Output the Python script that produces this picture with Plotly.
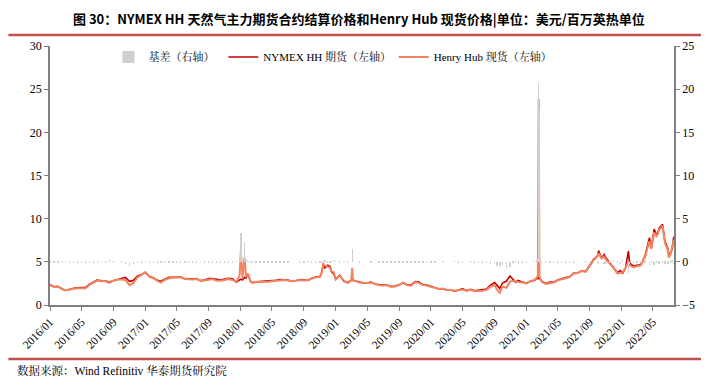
import plotly.graph_objects as go

dates = [
 "2016-01-01","2016-01-16","2016-02-01","2016-02-16","2016-03-01","2016-03-16","2016-04-01","2016-04-16",
 "2016-05-01","2016-05-16","2016-06-01","2016-06-16","2016-07-01","2016-07-16","2016-08-01","2016-08-16",
 "2016-09-01","2016-09-16","2016-10-01","2016-10-16","2016-11-01","2016-11-16","2016-12-01","2016-12-16",
 "2017-01-01","2017-01-16","2017-02-01","2017-02-16","2017-03-01","2017-03-16","2017-04-01","2017-04-16",
 "2017-05-01","2017-05-16","2017-06-01","2017-06-16","2017-07-01","2017-07-16","2017-08-01","2017-08-16",
 "2017-09-01","2017-09-16","2017-10-01","2017-10-16","2017-11-01","2017-11-16","2017-12-01","2017-12-16",
 "2017-12-28","2018-01-02","2018-01-08","2018-01-16","2018-01-22","2018-01-29","2018-02-08","2018-02-16",
 "2018-03-01","2018-03-16","2018-04-01","2018-04-16","2018-05-01","2018-05-16","2018-06-01","2018-06-16",
 "2018-07-01","2018-07-16","2018-08-01","2018-08-16","2018-09-01","2018-09-16","2018-10-01","2018-10-16",
 "2018-11-01","2018-11-08","2018-11-14","2018-11-20","2018-12-01","2018-12-10","2018-12-16","2018-12-24",
 "2019-01-01","2019-01-16","2019-02-01","2019-02-16","2019-03-01","2019-03-05","2019-03-08","2019-03-16",
 "2019-04-01","2019-04-16","2019-05-01","2019-05-16","2019-06-01","2019-06-16","2019-07-01","2019-07-16",
 "2019-08-01","2019-08-16","2019-09-01","2019-09-16","2019-10-01","2019-10-16","2019-11-01","2019-11-16",
 "2019-12-01","2019-12-16","2020-01-01","2020-01-16","2020-02-01","2020-02-16","2020-03-01","2020-03-16",
 "2020-04-01","2020-04-16","2020-05-01","2020-05-16","2020-06-01","2020-06-16","2020-07-01","2020-07-16",
 "2020-08-01","2020-08-16","2020-09-01","2020-09-10","2020-09-21","2020-10-01","2020-10-16","2020-10-30",
 "2020-11-10","2020-11-20","2020-12-01","2020-12-16","2021-01-01","2021-01-16","2021-02-01","2021-02-10",
 "2021-02-14","2021-02-17","2021-02-18","2021-02-20","2021-02-24","2021-03-01","2021-03-16","2021-04-01","2021-04-16",
 "2021-05-01","2021-05-16","2021-06-01","2021-06-16","2021-07-01","2021-07-16","2021-08-01","2021-08-16",
 "2021-09-01","2021-09-16","2021-10-01","2021-10-05","2021-10-16","2021-10-26","2021-11-01","2021-11-16",
 "2021-12-01","2021-12-16","2021-12-28","2022-01-05","2022-01-16","2022-01-27","2022-02-01","2022-02-16",
 "2022-03-01","2022-03-16","2022-04-01","2022-04-18","2022-04-25","2022-05-06","2022-05-16","2022-05-25",
 "2022-06-07","2022-06-16","2022-06-28","2022-07-01","2022-07-08","2022-07-14","2022-07-20",
]

nymex_futures = [
 2.34,2.12,2.15,1.85,1.68,1.85,1.95,1.98,
 2.05,2.05,2.40,2.65,2.90,2.75,2.78,2.60,
 2.85,2.95,3.05,3.20,2.75,2.85,3.35,3.55,
 3.75,3.30,3.15,2.85,2.75,3.00,3.20,3.20,
 3.25,3.25,3.05,3.00,3.00,3.05,2.80,2.90,
 3.05,3.05,2.95,2.90,3.00,3.10,3.05,2.65,
 2.90,3.00,2.90,3.20,3.10,3.60,2.75,2.58,
 2.68,2.70,2.73,2.75,2.77,2.85,2.95,2.95,
 2.90,2.75,2.80,2.95,2.90,2.85,3.10,3.25,
 3.30,3.75,4.80,4.30,4.60,4.45,3.85,3.60,
 2.95,3.45,2.75,2.60,2.85,2.80,2.85,2.80,
 2.65,2.55,2.55,2.65,2.40,2.35,2.30,2.35,
 2.15,2.20,2.35,2.60,2.35,2.30,2.70,2.65,
 2.35,2.30,2.15,2.05,1.85,1.85,1.75,1.75,
 1.60,1.75,1.90,1.65,1.80,1.65,1.70,1.75,
 1.85,2.30,2.60,2.30,1.90,2.55,2.75,3.35,
 2.95,2.65,2.85,2.65,2.55,2.75,2.85,3.10,
 3.05,3.20,3.15,3.10,2.95,2.75,2.50,2.65,2.65,
 2.90,3.05,3.15,3.30,3.70,3.70,3.95,3.90,
 4.60,5.30,5.70,6.30,5.40,5.85,5.50,4.90,
 4.25,3.75,4.00,3.70,4.25,6.25,4.85,4.50,
 4.60,4.70,5.70,7.80,6.60,8.80,8.00,8.90,
 9.35,7.40,6.50,5.70,6.05,6.50,7.90,
]

henry_hub_spot = [
 2.28,2.10,2.10,1.90,1.70,1.80,1.90,1.95,
 1.95,1.95,2.35,2.60,2.85,2.80,2.75,2.70,
 2.80,2.95,2.95,2.90,2.30,2.55,3.20,3.50,
 3.80,3.25,3.10,2.80,2.60,2.90,3.10,3.15,
 3.15,3.20,3.00,2.95,2.95,3.00,2.85,2.85,
 2.95,3.00,2.80,2.80,2.90,3.00,2.90,2.70,
 3.40,6.30,3.10,5.50,3.20,3.65,2.70,2.55,
 2.65,2.65,2.70,2.70,2.75,2.80,2.90,2.90,
 2.85,2.75,2.80,2.90,2.85,2.90,3.05,3.20,
 3.25,3.70,4.70,4.55,4.45,4.30,3.90,3.80,
 3.00,3.40,2.80,2.55,2.85,4.30,2.85,2.80,
 2.60,2.55,2.55,2.60,2.40,2.30,2.25,2.30,
 2.10,2.15,2.30,2.55,2.30,2.20,2.65,2.55,
 2.30,2.25,2.10,2.00,1.85,1.90,1.75,1.75,
 1.65,1.70,1.80,1.65,1.75,1.60,1.60,1.65,
 1.75,2.10,2.30,1.80,1.40,2.15,2.00,2.70,
 2.80,2.70,2.65,2.60,2.50,2.75,2.90,3.20,
 3.40,23.86,21.00,3.30,2.95,2.70,2.45,2.55,2.60,
 2.85,2.95,3.10,3.25,3.65,3.70,3.95,3.85,
 4.60,5.20,5.65,6.00,5.40,5.60,5.30,4.80,
 4.30,3.65,3.70,3.80,4.30,5.00,4.60,4.35,
 4.50,4.60,5.60,7.40,6.50,8.40,7.90,8.70,
 9.20,7.20,6.30,5.50,5.90,6.70,7.60,
]

basis = [
 -0.06,-0.02,-0.05,0.05,0.02,-0.05,-0.05,-0.03,
 -0.10,-0.10,-0.05,-0.05,-0.05,0.05,-0.03,0.10,
 -0.05,0.00,-0.10,-0.30,-0.45,-0.30,-0.15,-0.05,
 0.05,-0.05,-0.05,-0.05,-0.15,-0.10,-0.10,-0.05,
 -0.10,-0.05,-0.05,-0.05,-0.05,-0.05,0.05,-0.05,
 -0.10,-0.05,-0.15,-0.10,-0.10,-0.10,-0.15,0.05,
 0.50,3.30,0.20,2.30,0.10,0.05,-0.05,-0.03,
 -0.03,-0.05,-0.03,-0.05,-0.02,-0.05,-0.05,-0.05,
 -0.05,0.00,0.00,-0.05,-0.05,0.05,-0.05,-0.05,
 -0.05,-0.05,-0.10,0.25,-0.15,-0.15,0.05,0.20,
 0.05,-0.05,0.05,-0.05,0.00,1.50,0.00,0.00,
 -0.05,0.00,0.00,-0.05,0.00,-0.05,-0.05,-0.05,
 -0.05,-0.05,-0.05,-0.05,-0.05,-0.10,-0.05,-0.10,
 -0.05,-0.05,-0.05,-0.05,0.00,0.05,0.00,0.00,
 0.05,-0.05,-0.10,0.00,-0.05,-0.05,-0.10,-0.10,
 -0.10,-0.20,-0.30,-0.50,-0.50,-0.40,-0.75,-0.65,
 -0.15,0.05,-0.20,-0.05,-0.05,0.00,0.05,0.10,
 0.35,20.66,17.85,0.20,0.00,-0.05,-0.05,-0.10,-0.05,
 -0.05,-0.10,-0.05,-0.05,-0.05,0.00,0.00,-0.05,
 0.00,-0.10,-0.05,-0.30,0.00,-0.25,-0.20,-0.10,
 0.05,-0.10,-0.30,0.10,0.05,-1.25,-0.25,-0.15,
 -0.10,-0.10,-0.10,-0.40,-0.10,-0.40,-0.10,-0.20,
 -0.15,-0.20,-0.20,-0.20,-0.15,0.20,-0.30,
]

x_tick_vals = ["2016-01-01","2016-05-01","2016-09-01","2017-01-01","2017-05-01","2017-09-01",
               "2018-01-01","2018-05-01","2018-09-01","2019-01-01","2019-05-01","2019-09-01",
               "2020-01-01","2020-05-01","2020-09-01","2021-01-01","2021-05-01","2021-09-01",
               "2022-01-01","2022-05-01"]
x_tick_text = [d[:7].replace("-", "/") for d in x_tick_vals]

serif = "Liberation Serif, Noto Serif CJK SC, Noto Sans CJK SC, serif"
axis_grey = "#7f7f7f"

fig = go.Figure()
fig.add_trace(go.Bar(
    x=dates, y=basis, name="基差（右轴）", yaxis="y2",
    marker=dict(color="#cfcfcf", line=dict(width=0)),
    width=1.5 * 86400000, legend="legend",
))
fig.add_trace(go.Scatter(
    x=dates, y=nymex_futures, name="NYMEX HH 期货（左轴）", mode="lines",
    line=dict(color="#c00000", width=1.6), legend="legend2",
))
fig.add_trace(go.Scatter(
    x=dates, y=henry_hub_spot, name="Henry Hub 现货（左轴）", mode="lines",
    line=dict(color="#f4845f", width=2.0), legend="legend3",
))

# page body has an 8px margin; work in screen pixels and shift
OFF = 8
W, H = 709 - OFF, 389 - OFF
L, R, T, B = 44 - OFF, 709 - 674, 46 - OFF, 389 - 305
pw, ph = W - L - R, H - T - B

def px_x(p):
    return (p - OFF - L) / pw

def px_y(p):
    return (H - B - (p - OFF)) / ph

leg_common = dict(orientation="h", yanchor="middle", xanchor="left",
                  font=dict(family=serif, size=11, color="#000"),
                  bgcolor="rgba(0,0,0,0)", itemwidth=30)

fig.update_layout(
    width=W, height=H,
    margin=dict(l=L, r=R, t=T, b=B),
    plot_bgcolor="white", paper_bgcolor="white",
    bargap=0,
    showlegend=True,
    legend=dict(x=px_x(103), y=px_y(57), **leg_common),
    legend2=dict(x=px_x(219), y=px_y(57), **leg_common),
    legend3=dict(x=px_x(391), y=px_y(57), **leg_common),
    xaxis=dict(
        type="date", range=["2016-01-01", "2022-07-21"],
        tickvals=x_tick_vals, ticktext=x_tick_text, tickangle=-45,
        tickfont=dict(family=serif, size=11.5, color="#000"),
        showline=True, linecolor=axis_grey, linewidth=1.5,
        ticks="outside", ticklen=4, tickcolor=axis_grey, showgrid=False, zeroline=False,
    ),
    yaxis=dict(
        range=[0, 30], dtick=5, tick0=0,
        tickfont=dict(family=serif, size=12, color="#000"),
        showline=True, linecolor=axis_grey, linewidth=1.5,
        ticks="outside", ticklen=4, tickcolor=axis_grey, showgrid=False, zeroline=False,
    ),
    yaxis2=dict(
        range=[-5, 25], dtick=5, tick0=-5, overlaying="y", side="right",
        tickfont=dict(family=serif, size=12, color="#000"),
        showline=True, linecolor=axis_grey, linewidth=1.5,
        ticks="outside", ticklen=4, tickcolor=axis_grey, showgrid=False, zeroline=False,
    ),
)

fig.add_annotation(
    text="图 30：NYMEX HH 天然气主力期货合约结算价格和Henry Hub 现货价格|单位：美元/百万英热单位",
    xref="paper", yref="paper", x=px_x(356), y=px_y(18), xanchor="center", yanchor="middle",
    showarrow=False, font=dict(family="Noto Sans CJK SC", size=13, color="#000", weight="bold"),
)
fig.add_annotation(
    text="数据来源：Wind Refinitiv 华泰期货研究院",
    xref="paper", yref="paper", x=px_x(9), y=px_y(370), xanchor="left", yanchor="middle",
    showarrow=False, font=dict(family=serif, size=11.5, color="#000"),
)
fig.add_shape(type="line", xref="paper", yref="paper",
              x0=px_x(2), x1=px_x(707), y0=px_y(35), y1=px_y(35),
              line=dict(color="#c0504d", width=2.5))
fig.add_shape(type="line", xref="paper", yref="paper",
              x0=px_x(2), x1=px_x(707), y0=px_y(359), y1=px_y(359),
              line=dict(color="#c0504d", width=2.5))

fig.write_html("out.html")
